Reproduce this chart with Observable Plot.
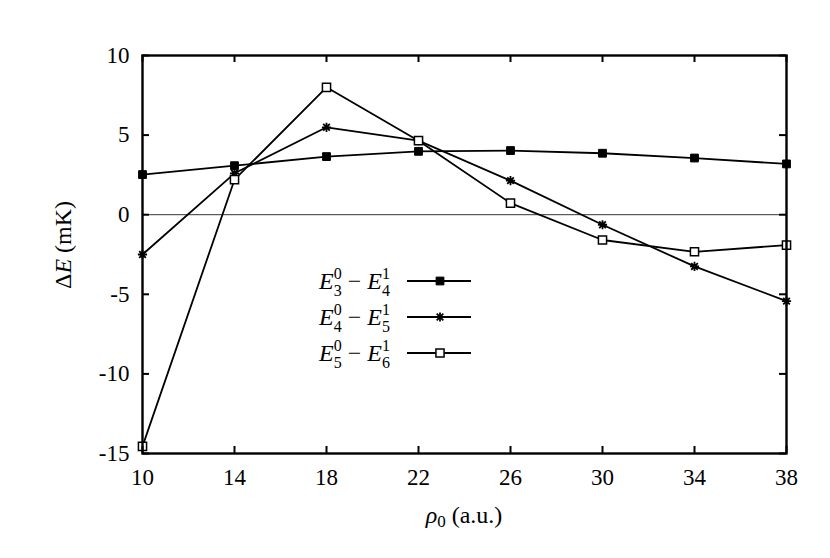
<!DOCTYPE html>
<html><head><meta charset="utf-8">
<script src="https://cdn.jsdelivr.net/npm/d3@7"></script>
<script src="https://cdn.jsdelivr.net/npm/@observablehq/plot@0.6"></script>
<style>
body{margin:0;background:#fff;}
#chart{position:relative;width:830px;height:558px;}
svg text{font-family:"Liberation Serif","Tinos","Times New Roman","DejaVu Serif","Noto Serif",serif !important;}
</style></head><body><div id="chart"></div>
<script>
// ---- data ----
const rho = [10, 14, 18, 22, 26, 30, 34, 38];
const dE_34 = [2.52, 3.08, 3.65, 3.98, 4.03, 3.86, 3.56, 3.19];
const dE_45 = [-2.5, 2.6, 5.49, 4.65, 2.14, -0.63, -3.25, -5.43];
const dE_56 = [-14.55, 2.2, 8.0, 4.65, 0.73, -1.59, -2.33, -1.91];
const xTicks = [10, 14, 18, 22, 26, 30, 34, 38];
const yTicks = [-15, -10, -5, 0, 5, 10];
const seriesKeys = ["E34", "E45", "E56"];
const legendSub = [["3", "4"], ["4", "5"], ["5", "6"]];
const xLabel = ["ρ", "0", " (a.u.)"];
const yLabel = ["Δ", "E", " (mK)"];

// gnuplot-like "*" : plus and cross overlaid
const star8 = {
  draw(ctx, size) {
    const r = Math.sqrt(size / Math.PI);
    const d = r * 0.72;
    ctx.moveTo(-r, 0); ctx.lineTo(r, 0);
    ctx.moveTo(0, -r); ctx.lineTo(0, r);
    ctx.moveTo(-d, -d); ctx.lineTo(d, d);
    ctx.moveTo(-d, d); ctx.lineTo(d, -d);
  }
};

// ---- styles ----
const seriesStyle = {
  E34: {symbol: d3.symbolSquare, r: 4.4, fill: "black", stroke: "black", sw: 1},
  E45: {symbol: star8, r: 4.6, fill: "none", stroke: "black", sw: 1.8},
  E56: {symbol: d3.symbolSquare, r: 4.6, fill: "white", stroke: "black", sw: 1.5}
};
const values = {E34: dE_34, E45: dE_45, E56: dE_56};
const data = [];
seriesKeys.forEach(k => values[k].forEach((v, i) => data.push({x: rho[i], y: v, key: k})));

const W = 830, H = 558, mL = 142, mR = 44, mT = 55, mB = 105;
const innerW = W - mL - mR, innerH = H - mT - mB, tk = 7;
const font = "Liberation Serif, Tinos, Times New Roman, DejaVu Serif, Noto Serif, serif";

const marks = [
  Plot.ruleY([0], {stroke: "black", strokeWidth: 0.8}),
  Plot.line(data, {x: "x", y: "y", z: "key", stroke: "black", strokeWidth: 1.8}),
  ...seriesKeys.map(k => {
    const s = seriesStyle[k];
    return Plot.dot(data.filter(d => d.key === k), {x: "x", y: "y", symbol: () => s.symbol, r: s.r, fill: s.fill, stroke: s.stroke, strokeWidth: s.sw});
  }),
  Plot.ruleX(xTicks, {x: d => d, insetTop: innerH - tk, strokeWidth: 2}),
  Plot.ruleX(xTicks, {x: d => d, insetBottom: innerH - tk, strokeWidth: 2}),
  Plot.ruleY(yTicks, {y: d => d, insetRight: innerW - tk, strokeWidth: 2}),
  Plot.ruleY(yTicks, {y: d => d, insetLeft: innerW - tk, strokeWidth: 2}),
  Plot.axisX(xTicks, {tickSize: 0, tickPadding: 15, label: null, fontSize: 23}),
  Plot.axisY(yTicks, {tickSize: 0, tickPadding: 13, label: null, fontSize: 23, tickFormat: d => String(d)}),
  Plot.frame({stroke: "black", strokeWidth: 2.4})
];

const chart = Plot.plot({
  width: W, height: H, marginLeft: mL, marginRight: mR, marginTop: mT, marginBottom: mB,
  style: {fontFamily: font, background: "white", color: "black", overflow: "visible"},
  x: {domain: [10, 38]}, y: {domain: [-15, 10]},
  marks
});
document.getElementById("chart").appendChild(chart);

// ---- axis labels & legend (annotation) ----
const svg = d3.select(chart);
const xs = chart.scale("x");

const xl = svg.append("text").attr("x", (xs.apply(10) + xs.apply(38)) / 2).attr("y", 523)
  .attr("text-anchor", "middle").attr("font-size", 24);
xl.append("tspan").attr("font-style", "italic").text(xLabel[0]);
xl.append("tspan").attr("font-size", 17).attr("dy", 4).text(xLabel[1]);
xl.append("tspan").attr("dy", -4).text(xLabel[2]);

const yl = svg.append("text").attr("transform", "translate(71,245) rotate(-90)")
  .attr("text-anchor", "middle").attr("font-size", 24);
yl.append("tspan").text(yLabel[0]);
yl.append("tspan").attr("font-style", "italic").text(yLabel[1]);
yl.append("tspan").text(yLabel[2]);

const legY = [281, 317, 353];
seriesKeys.forEach((k, i) => {
  const y = legY[i];
  const s = seriesStyle[k];
  const g = svg.append("g");
  const t = g.append("text").attr("x", 390).attr("y", y + 8).attr("text-anchor", "end").attr("font-size", 24);
  t.append("tspan").attr("font-style", "italic").text("E");
  t.append("tspan").attr("font-size", 16).attr("dy", -10).text("0");
  t.append("tspan").attr("font-size", 16).attr("dx", -8).attr("dy", 17).text(legendSub[i][0]);
  t.append("tspan").attr("dy", -7).text(" − ");
  t.append("tspan").attr("font-style", "italic").text("E");
  t.append("tspan").attr("font-size", 16).attr("dy", -10).text("1");
  t.append("tspan").attr("font-size", 16).attr("dx", -8).attr("dy", 17).text(legendSub[i][1]);
  g.append("line").attr("x1", 407).attr("x2", 471).attr("y1", y).attr("y2", y).attr("stroke", "black").attr("stroke-width", 1.8);
  g.append("path").attr("transform", `translate(440,${y})`)
    .attr("d", d3.symbol(s.symbol, s.r * s.r * Math.PI)())
    .attr("fill", s.fill).attr("stroke", s.stroke).attr("stroke-width", s.sw);
});
</script></body></html>
